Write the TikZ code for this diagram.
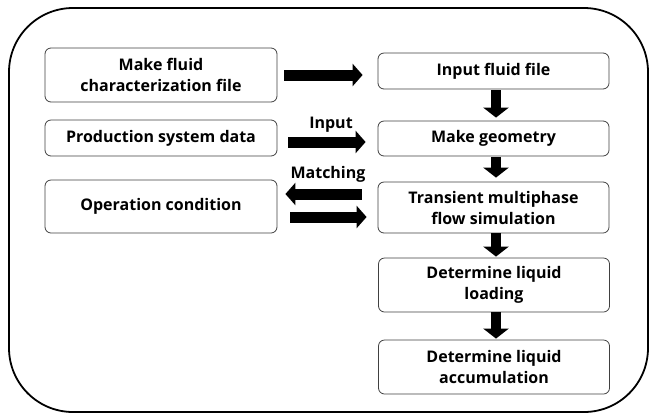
\documentclass[tikz,border=0pt]{standalone}
\usepackage{fontspec}
\setmainfont{Open Sans}
\usetikzlibrary{arrows.meta,calc}
\tikzset{
  box/.style={draw=black!75, line width=0.8bp, rounded corners=6bp, fill=white,
    align=center, inner sep=0pt, font=\bfseries\fontsize{16bp}{21bp}\selectfont},
  lbl/.style={inner sep=0pt, font=\bfseries\fontsize{16bp}{21bp}\selectfont},
  blk/.style={line width=11bp, -{Triangle[length=10bp,width=22bp]}},
  vblk/.style={line width=10bp, -{Triangle[length=10bp,width=25bp]}},
}
\begin{document}
\begin{tikzpicture}[x=1bp,y=-1bp]
\useasboundingbox (0,0) rectangle (650,415);
\draw[line width=1.8bp, rounded corners=64bp] (9,8) rectangle (648,412);
% left column
\node[box, minimum width=232bp, minimum height=54bp] (fluid) at (161,75) {Make fluid\\characterization file};
\node[box, minimum width=232bp, minimum height=36bp] (prod) at (161,138) {Production system data};
\node[box, minimum width=232bp, minimum height=53bp] (oper) at (161,206.5) {Operation condition};
% right column
\node[box, minimum width=231bp, minimum height=36bp] (inp) at (493.5,71) {Input fluid file};
\node[box, minimum width=231bp, minimum height=35bp] (geom) at (493.5,138.5) {Make geometry};
\node[box, minimum width=231bp, minimum height=51bp] (sim) at (493.5,207.5) {Transient multiphase\\flow simulation};
\node[box, minimum width=231bp, minimum height=54bp] (load) at (494,285) {Determine liquid\\loading};
\node[box, minimum width=231bp, minimum height=54bp] (accu) at (494,367) {Determine liquid\\accumulation};
% labels
\node[lbl] (linput) at (331,125) {Input};
\node[lbl] (lmatch) at (328,174) {Matching};
% horizontal arrows
\draw[blk, shorten <=7bp, shorten >=15bp] (fluid.east) -- (fluid.east -| inp.west);
\draw[blk, shorten <=11bp, shorten >=12bp] ([yshift=-4bp]prod.east) -- ([yshift=-4bp]prod.east -| geom.west);
\draw[blk, shorten <=16bp, shorten >=8bp] ([yshift=12.5bp]oper.east -| sim.west) -- ([yshift=12.5bp]oper.east);
\draw[blk, shorten <=13bp, shorten >=11bp] ([yshift=-10.5bp]oper.east) -- ([yshift=-10.5bp]oper.east -| sim.west);
% vertical arrows
\draw[vblk, shorten <=1bp, shorten >=3bp] ([xshift=2.5bp]inp.south) -- ([xshift=2.5bp]inp.south |- geom.north);
\draw[vblk, shorten <=1bp, shorten >=4bp] ([xshift=2.5bp]geom.south) -- ([xshift=2.5bp]geom.south |- sim.north);
\draw[vblk, shorten <=0bp, shorten >=1bp] ([xshift=2.5bp]sim.south) -- ([xshift=2.5bp]sim.south |- load.north);
\draw[vblk, shorten <=0bp, shorten >=1bp] ([xshift=2bp]load.south) -- ([xshift=2bp]load.south |- accu.north);
\end{tikzpicture}
\end{document}
